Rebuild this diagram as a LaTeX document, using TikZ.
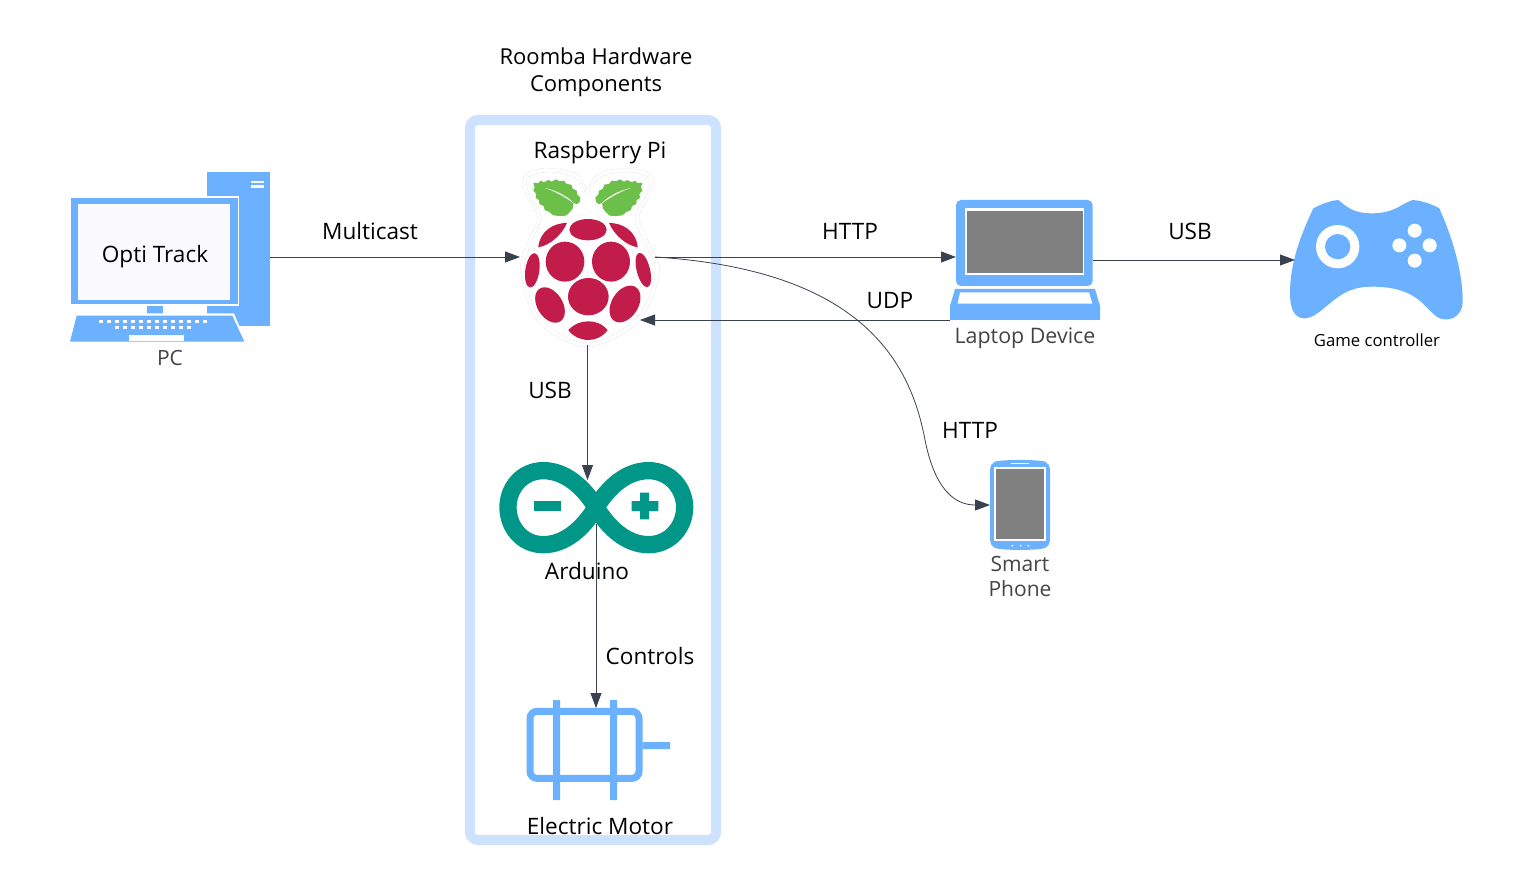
\documentclass[tikz,border=0pt]{standalone}
\usepackage{fontspec}
\setmainfont{Open Sans}
\usetikzlibrary{arrows.meta}
\definecolor{iconblue}{HTML}{6CB1FF}
\definecolor{framelight}{HTML}{CCE2FF}
\definecolor{teal2}{HTML}{009688}
\definecolor{berry}{HTML}{C21C4B}
\definecolor{leaf}{HTML}{6CC04A}
\definecolor{screengray}{HTML}{808080}
\definecolor{wire}{HTML}{3A4250}
\definecolor{softtext}{HTML}{444444}
\newcommand{\leafshape}{%
  \fill[leaf] (100,68) -- (114,70) -- (122,62) -- (132,67) -- (145,60) -- (155,65) -- (168,58) -- (178,64) -- (192,62) -- (200,72) -- (214,74) -- (218,86) -- (230,92) -- (232,104) -- (241,112) -- (239,126) -- (232,132) -- (220,130) -- (219,144) -- (210,156) -- (198,167) -- (178,168) -- (160,166) -- (148,156) -- (134,150) -- (131,138) -- (118,132) -- (117,120) -- (107,114) -- (109,102) -- (100,92) -- (104,82) -- cycle;
  \fill[white] (135,84) .. controls (170,92) and (205,110) .. (224,132) .. controls (200,114) and (170,96) .. cycle;
}
\tikzset{
  zoomed/.style 2 args={shift={(#1,#2)},x=0.33333pt,y=-0.33333pt},
  ghost/.style={inner sep=0pt,outer sep=0pt,draw=none,fill=none},
  lbl/.style={inner sep=0pt,outer sep=0pt,font=\fontsize{22.6}{26.5}\selectfont,align=center,text=black},
  softlbl/.style={lbl,text=softtext,font=\fontsize{21}{25}\selectfont},
  wirearrow/.style={draw=wire,line width=0.8pt,-{Triangle[length=15pt,width=11pt]}},
  halo/.style={draw=gray!35,line width=0.5pt,densely dotted},
}
\begin{document}
\begin{tikzpicture}[x=1pt,y=-1pt]
\useasboundingbox (0,0) rectangle (1533,885);
\fill[white] (0,0) rectangle (1533,885);

% container
\draw[framelight,line width=10pt,rounded corners=8pt] (470,120) rectangle (716,840);
\node[lbl,font=\fontsize{22}{26.5}\selectfont] (title) at (596,72.5) {Roomba Hardware\\Components};

% PC
\begin{scope}[zoomed={50}{160}]
  \fill[iconblue] (471,36) rectangle (660,497);
  \fill[white] (602,62) rectangle (642,68);
  \fill[white] (602,76) rectangle (642,83);
  \fill[white] (60,108) rectangle (568,437);
  \fill[iconblue] (63,113) rectangle (563,433);
  \fill[white!98!blue] (85,133) rectangle (541,419);
  \fill[iconblue] (291,437) rectangle (339,462);
  \fill[white] (74,460) -- (552,460) -- (590,550) -- (50,550) -- cycle;
  \fill[iconblue] (80,467) -- (547,467) -- (583,545) -- (60,545) -- cycle;
  \foreach \k in {147,171,...,460} \fill[white] (\k,480) rectangle +(13,10);
  \foreach \k in {195,219,...,420} \fill[white] (\k,497) rectangle +(13,11);
  \fill[white] (237,526) rectangle (403,542);
\end{scope}
\node[ghost,minimum width=200pt,minimum height=170pt] (pc) at (170,257) {};
\node[lbl] (opti) at (155,256.5) {Opti Track};
\node[softlbl] (pclabel) at (170,358) {PC};

% Raspberry Pi
\begin{scope}[zoomed={500}{160}]
  \draw[halo] plot[smooth cycle,tension=0.6] coordinates {(262,88) (240,50) (195,30) (120,26) (70,50) (78,105) (112,170) (85,240) (62,310) (75,400) (110,480) (180,535) (262,560) (345,535) (420,480) (462,400) (478,320) (445,245) (418,170) (450,105) (458,50) (410,28) (330,30) (285,50)};
  \draw[halo] plot[smooth cycle,tension=0.6] coordinates {(262,98) (235,60) (190,40) (125,38) (82,56) (88,105) (122,172) (95,245) (74,315) (85,395) (118,470) (185,525) (262,548) (340,525) (412,470) (452,395) (465,320) (435,250) (405,172) (440,105) (446,56) (405,38) (335,40) (290,60)};
  \leafshape
  \begin{scope}[shift={(527,0)},xscale=-1]
    \leafshape
  \end{scope}
  \fill[berry] (264,209) ellipse [x radius=56,y radius=32];
  \fill[berry] (115,262) .. controls (118,215) and (160,188) .. (201,189) .. controls (185,225) and (150,256) .. cycle;
  \fill[berry] (413,262) .. controls (410,215) and (368,188) .. (327,189) .. controls (343,225) and (378,256) .. cycle;
  \fill[berry] (195,305) ellipse [x radius=58,y radius=60];
  \fill[berry] (333,305) ellipse [x radius=57,y radius=60];
  \fill[berry] (97,331) ellipse [x radius=21,y radius=52,rotate=-8];
  \fill[berry] (430,330) ellipse [x radius=20,y radius=53,rotate=14];
  \fill[berry] (265,410) ellipse [x radius=61,y radius=56];
  \fill[berry] (150,435) ellipse [x radius=38,y radius=58,rotate=32];
  \fill[berry] (375,432) ellipse [x radius=40,y radius=60,rotate=-32];
  \fill[berry] (205,510) .. controls (225,490) and (245,484) .. (265,484) .. controls (285,484) and (305,490) .. (323,510) .. controls (310,530) and (285,540) .. (265,540) .. controls (245,540) and (218,530) .. cycle;
\end{scope}
\node[ghost,minimum width=135pt,minimum height=176pt] (pi) at (587.5,257) {};
\coordinate (piudp) at (640,320);
\node[lbl] (pilabel) at (600,153) {Raspberry Pi};

% Arduino
\begin{scope}[zoomed={490}{450}]
  \draw[teal2,line width=17.3pt] (318,172) .. controls (280,110) and (225,62) .. (160,62) .. controls (95,62) and (54,115) .. (54,172) .. controls (54,230) and (95,284) .. (160,284) .. controls (225,284) and (280,235) .. (318,172) .. controls (356,110) and (410,62) .. (476,62) .. controls (540,62) and (584,115) .. (584,172) .. controls (584,230) and (540,284) .. (476,284) .. controls (410,284) and (356,235) .. cycle;
  \fill[teal2] (133,153) rectangle (213,183);
  \fill[teal2] (425,153) rectangle (505,183) (450,128) rectangle (477,208);
\end{scope}
\node[ghost,minimum width=12pt,minimum height=44pt] (knot) at (596,502) {};
\node[lbl] (ardlabel) at (587,571) {Arduino};

% Motor
\begin{scope}[zoomed={510}{690}]
  \draw[iconblue,line width=7pt,rounded corners=7pt] (60,64) rectangle (387,265);
  \fill[iconblue] (129,30) rectangle (150,330) (300,30) rectangle (321,330) (397,156) rectangle (480,177);
\end{scope}
\node[ghost,minimum width=114pt,minimum height=74pt] (motor) at (584.5,745) {};
\node[lbl] (motorlabel) at (600,826) {Electric Motor};

% Laptop
\begin{scope}[zoomed={940}{190}]
  \fill[iconblue,rounded corners=5pt] (48,30) rectangle (458,288);
  \fill[white] (75,55) rectangle (432,255);
  \fill[screengray] (80,62) rectangle (428,248);
  \fill[iconblue] (45,297) -- (465,297) -- (480,348) -- (480,390) -- (30,390) -- (30,348) -- cycle;
  \fill[white] (60,307) -- (447,307) -- (457,341) -- (53,341) -- cycle;
\end{scope}
\node[ghost,minimum width=137pt,minimum height=120pt] (laptop) at (1024.5,260) {};
\node[ghost,minimum width=150pt,minimum height=30pt] (lapbase) at (1025,305) {};
\node[softlbl,font=\fontsize{21.4}{25}\selectfont] (laplabel) at (1025,338.5) {Laptop Device};

% Game controller
\begin{scope}[zoomed={1280}{190}]
  \fill[iconblue] (100,55) .. controls (125,42) and (150,32) .. (175,30) .. controls (190,40) and (210,70) .. (275,70) .. controls (345,70) and (365,40) .. (398,30) .. controls (425,32) and (455,42) .. (478,55) .. controls (520,150) and (548,250) .. (548,330) .. controls (550,385) and (500,400) .. (470,380) .. controls (430,350) and (410,290) .. (275,290) .. controls (195,290) and (165,330) .. (115,368) .. controls (80,395) and (30,400) .. (30,310) .. controls (30,220) and (60,140) .. cycle;
  \fill[white] (173,170) circle [radius=65];
  \fill[iconblue] (173,170) circle [radius=38];
  \fill[white] (404,122) circle [radius=21] (358,166) circle [radius=21] (449,166) circle [radius=21] (404,212) circle [radius=21];
\end{scope}
\node[ghost,minimum width=168pt,minimum height=120pt] (pad) at (1379,260) {};
\node[lbl,font=\fontsize{16.7}{19}\selectfont] (padlabel) at (1377,340.5) {Game controller};

% Phone
\begin{scope}[zoomed={970}{450}]
  \fill[iconblue,rounded corners=5pt] (60,42) .. controls (90,28) and (210,28) .. (240,42) -- (240,286) .. controls (210,302) and (90,302) .. (60,286) -- cycle;
  \fill[white] (73,50) rectangle (228,272);
  \fill[screengray] (78,57) rectangle (222,266);
  \fill[white] (123,39) rectangle (177,42);
  \fill[white] (127,287) circle [radius=3] (152,287) circle [radius=3] (175,287) circle [radius=3];
\end{scope}
\node[ghost,minimum width=60pt,minimum height=90pt] (phone) at (1020,505) {};
\node[softlbl] (phonelabel) at (1020,576.5) {Smart\\Phone};

% connector labels
\node[lbl] (lmulti) at (370,231) {Multicast};
\node[lbl] (lhttpa) at (850,231) {HTTP};
\node[lbl] (lusba) at (1190,231) {USB};
\node[lbl] (ludp) at (890,301) {UDP};
\node[lbl] (lhttpb) at (970,430) {HTTP};
\node[lbl] (lusbb) at (550,390) {USB};
\node[lbl] (lctrl) at (650,656) {Controls};

% connectors
\draw[wirearrow] (pc.east) -- (pi.west);
\draw[wirearrow] (pi.east) -- (pi.east -| laptop.west);
\draw[wirearrow] (lapbase.south west) -- (piudp);
\draw[wirearrow] (laptop.east) -- (pad.west);
\draw[wirearrow] (pi.east) .. controls (860,270) and (910,360) .. (925,440) .. controls (935,490) and (955,505) .. (phone.west);
\draw[wirearrow] (pi.south) -- (pi.south |- knot.north);
\draw[wirearrow] (knot.south) -- (knot.south |- motor.north);
\end{tikzpicture}
\end{document}
